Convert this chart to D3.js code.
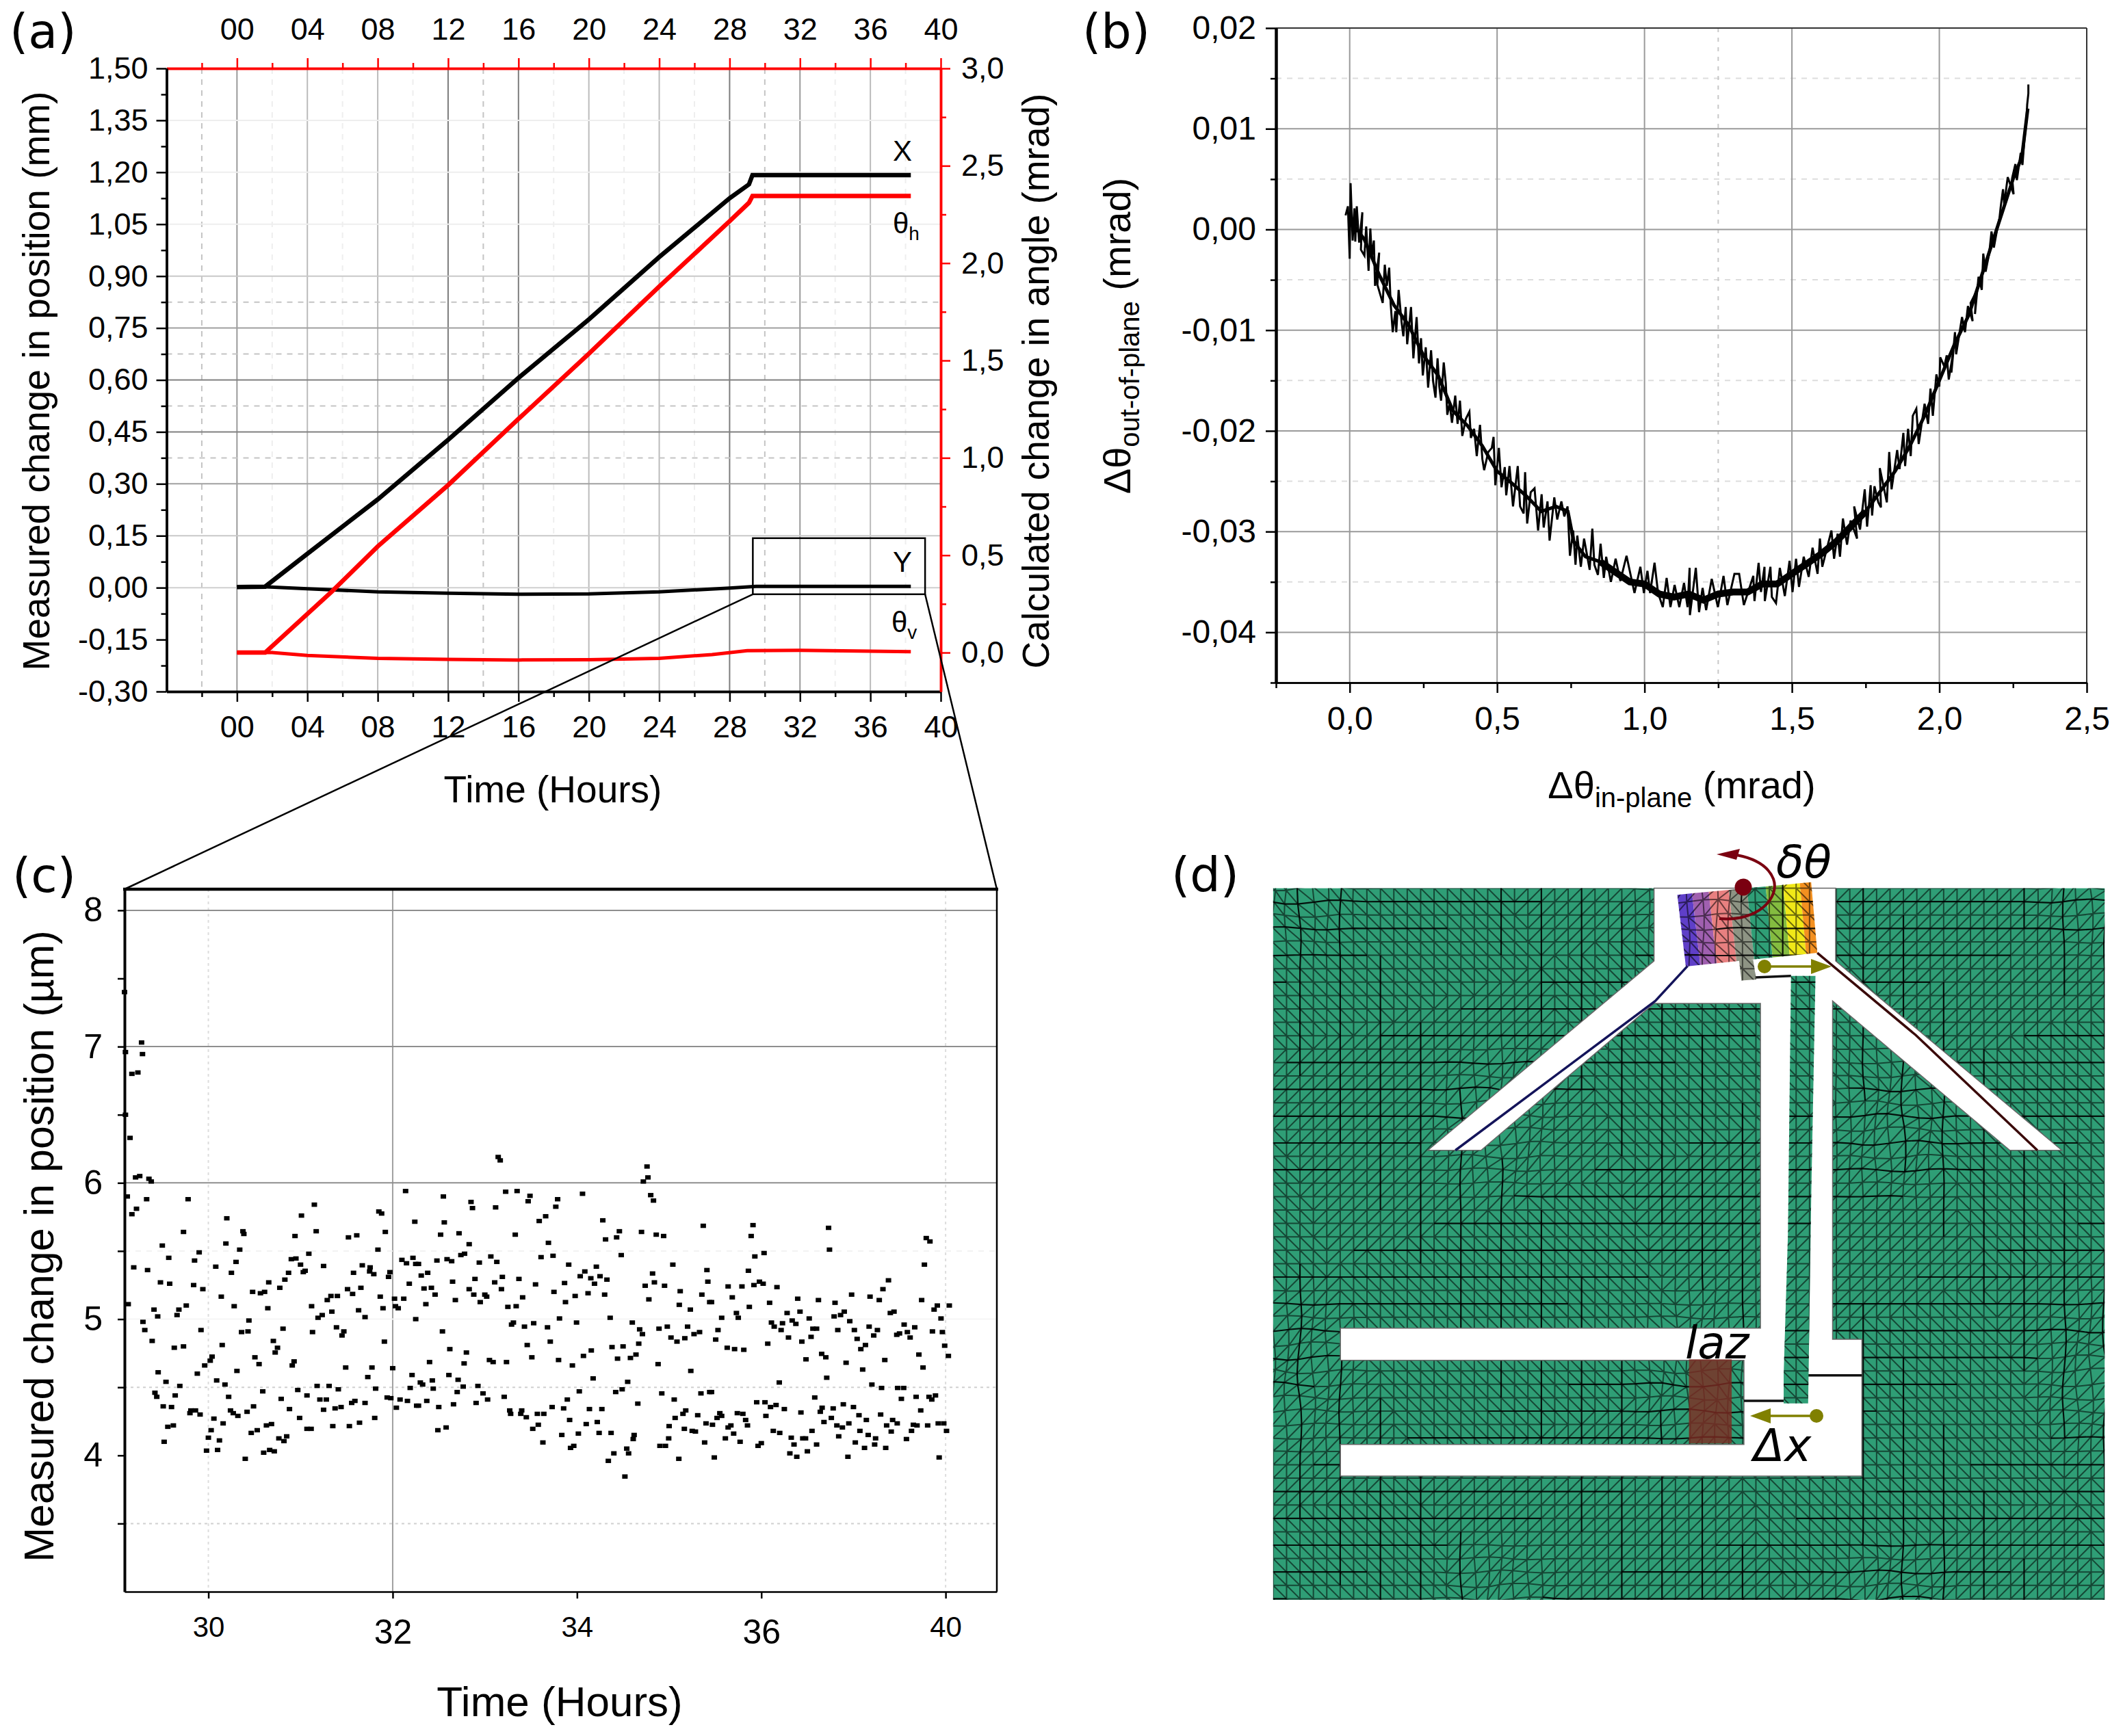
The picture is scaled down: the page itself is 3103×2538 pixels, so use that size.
<!DOCTYPE html>
<html>
<head>
<meta charset="utf-8">
<script src="https://cdn.jsdelivr.net/npm/d3@7"></script>
<style>
body { margin: 0; background: #fff; }
text { font-family: "Liberation Sans", Arial, sans-serif; fill: #000; }
.djv text, text.djv { font-family: "DejaVu Sans", sans-serif; }
</style>
</head>
<body>
<div id="fig"></div>
<script>
// ---------- panel (a) values ----------
const hourTicks = [0, 4, 8, 12, 16, 20, 24, 28, 32, 36, 40];
const hourMinor = [-2, 2, 6, 10, 14, 18, 22, 26, 30, 34, 38];
const posTicks = [-0.3, -0.15, 0, 0.15, 0.3, 0.45, 0.6, 0.75, 0.9, 1.05, 1.2, 1.35, 1.5];
const posMinor = [-0.225, -0.075, 0.075, 0.225, 0.375, 0.525, 0.675, 0.825, 0.975, 1.125, 1.275, 1.425];
const angleTicks = [0, 0.5, 1, 1.5, 2, 2.5, 3];
const angleMinor = [0.25, 0.75, 1.25, 1.75, 2.25, 2.75];

const xHours = [0, 1.6, 4, 8, 12, 16, 20, 24, 28, 29.1, 29.3, 38.3];
const xPos = [0.002, 0.003, 0.098, 0.255, 0.427, 0.606, 0.775, 0.955, 1.125, 1.165, 1.192, 1.192];
const thetaHHours = [0, 1.6, 5.4, 8, 12, 16, 20, 24, 28, 29.1, 29.3, 38.3];
const thetaHAngle = [0, 0, 0.314, 0.545, 0.86, 1.2, 1.535, 1.88, 2.215, 2.31, 2.345, 2.345];
const yHours = [0, 1.5, 4, 8, 12, 16, 20, 24, 28, 29.5, 38.3];
const yPos = [0.002, 0.003, -0.003, -0.012, -0.016, -0.019, -0.018, -0.012, -0.001, 0.004, 0.004];
const thetaVHours = [0, 2, 4, 8, 12, 16, 20, 24, 27, 29, 32, 38.3];
const thetaVAngle = [0, 0, -0.015, -0.03, -0.035, -0.038, -0.037, -0.03, -0.01, 0.01, 0.012, 0.005];

// ---------- panel (b) values ----------
const inPlaneTicks = [0, 0.5, 1, 1.5, 2, 2.5];
const inPlaneMinor = [-0.25, 0.25, 0.75, 1.25, 1.75, 2.25];
const outPlaneTicks = [-0.04, -0.03, -0.02, -0.01, 0, 0.01, 0.02];
const outPlaneMinor = [-0.045, -0.035, -0.025, -0.015, -0.005, 0.005, 0.015];
const curveB = [
  [-0.014,0.0014],[-0.006,0.0023],[0,-0.0029],[0.003,0.0046],[0.01,-0.0011],[0.016,0.0021],[0.019,-0.0012],[0.024,0.0023],
  [0.032,-0.0013],[0.043,0.0017],[0.038,-0.002],[0.05,-0.0026],[0.056,0.0003],[0.064,-0.0041],[0.07,0.0001],[0.075,-0.0027],
  [0.082,-0.0011],[0.086,-0.0056],[0.1,-0.0023],[0.094,-0.0055],[0.112,-0.0073],[0.119,-0.0035],[0.126,-0.0056],[0.134,-0.0038],
  [0.139,-0.0074],[0.146,-0.0102],[0.155,-0.0081],[0.158,-0.0102],[0.166,-0.006],[0.176,-0.0092],[0.182,-0.0106],[0.19,-0.0077],
  [0.195,-0.0114],[0.208,-0.0077],[0.216,-0.0128],[0.227,-0.0087],[0.235,-0.0133],[0.242,-0.0108],[0.248,-0.0145],[0.258,-0.0117],
  [0.266,-0.0157],[0.276,-0.012],[0.283,-0.0151],[0.291,-0.0167],[0.298,-0.0128],[0.304,-0.0156],[0.31,-0.017],[0.319,-0.0132],
  [0.326,-0.0153],[0.331,-0.0184],[0.339,-0.0173],[0.347,-0.0192],[0.358,-0.0165],[0.366,-0.0193],[0.374,-0.017],[0.382,-0.0205],
  [0.394,-0.0188],[0.406,-0.0181],[0.411,-0.0207],[0.422,-0.0198],[0.431,-0.0225],[0.442,-0.0194],[0.45,-0.0228],[0.456,-0.0239],
  [0.47,-0.0221],[0.482,-0.0217],[0.488,-0.0206],[0.494,-0.0254],[0.506,-0.0217],[0.515,-0.0256],[0.526,-0.0236],[0.531,-0.0264],
  [0.542,-0.0235],[0.554,-0.0275],[0.57,-0.0235],[0.578,-0.0275],[0.59,-0.0282],[0.595,-0.0241],[0.602,-0.0292],[0.614,-0.0261],
  [0.627,-0.0257],[0.639,-0.0299],[0.651,-0.0263],[0.658,-0.0296],[0.671,-0.027],[0.678,-0.0309],[0.694,-0.0266],[0.704,-0.0288],
  [0.718,-0.027],[0.728,-0.0285],[0.739,-0.0275],[0.747,-0.0324],[0.758,-0.0299],[0.766,-0.0333],[0.772,-0.0304],[0.784,-0.0335],
  [0.795,-0.0307],[0.814,-0.0338],[0.823,-0.0297],[0.83,-0.0333],[0.842,-0.0343],[0.851,-0.0312],[0.862,-0.0346],[0.87,-0.0325],
  [0.886,-0.035],[0.902,-0.0327],[0.918,-0.0349],[0.939,-0.0324],[0.966,-0.0361],[0.986,-0.0335],[0.998,-0.0361],[1.01,-0.0339],
  [1.019,-0.0361],[1.034,-0.0331],[1.046,-0.0361],[1.062,-0.0375],[1.075,-0.0346],[1.088,-0.0375],[1.102,-0.0353],[1.118,-0.0375],
  [1.134,-0.0351],[1.146,-0.0375],[1.153,-0.0336],[1.154,-0.0383],[1.174,-0.0336],[1.185,-0.038],[1.197,-0.0356],[1.209,-0.0378],
  [1.228,-0.0347],[1.249,-0.0375],[1.268,-0.0344],[1.281,-0.0373],[1.305,-0.0342],[1.321,-0.0342],[1.337,-0.0373],[1.369,-0.0344],
  [1.373,-0.0369],[1.387,-0.0331],[1.395,-0.036],[1.407,-0.0335],[1.408,-0.0369],[1.427,-0.0335],[1.432,-0.0365],[1.446,-0.0371],
  [1.459,-0.0336],[1.476,-0.0364],[1.492,-0.0329],[1.502,-0.036],[1.514,-0.0327],[1.524,-0.0355],[1.54,-0.0325],[1.557,-0.0345],
  [1.57,-0.0316],[1.587,-0.0342],[1.595,-0.0307],[1.603,-0.0335],[1.634,-0.0299],[1.643,-0.0327],[1.655,-0.0302],[1.663,-0.0325],
  [1.673,-0.0287],[1.687,-0.0313],[1.699,-0.0289],[1.721,-0.0307],[1.711,-0.0275],[1.731,-0.0298],[1.747,-0.0258],[1.755,-0.0295],
  [1.767,-0.0254],[1.772,-0.0284],[1.78,-0.0255],[1.793,-0.0271],[1.802,-0.0276],[1.798,-0.0237],[1.822,-0.0271],[1.83,-0.0221],
  [1.838,-0.0258],[1.857,-0.0219],[1.865,-0.0238],[1.878,-0.0202],[1.884,-0.0235],[1.894,-0.0198],[1.903,-0.0225],[1.91,-0.0185],
  [1.922,-0.0178],[1.93,-0.0213],[1.95,-0.0173],[1.962,-0.0193],[1.97,-0.0158],[1.978,-0.0185],[1.99,-0.0144],[2,-0.0156],
  [2.003,-0.0127],[2.017,-0.0136],[2.025,-0.0125],[2.032,-0.0149],[2.048,-0.012],[2.041,-0.0142],[2.053,-0.0102],[2.057,-0.0124],
  [2.077,-0.0087],[2.087,-0.0102],[2.097,-0.0076],[2.113,-0.0091],[2.106,-0.0073],[2.125,-0.0062],[2.121,-0.0084],[2.133,-0.0047],
  [2.144,-0.006],[2.149,-0.0024],[2.157,-0.0042],[2.169,-0.0024],[2.177,-0.0002],[2.185,-0.0018],[2.196,0],[2.204,0.0011],
  [2.208,0.0022],[2.216,0.004],[2.22,0.0025],[2.232,0.0052],[2.252,0.0035],[2.247,0.0051],[2.258,0.0065],[2.263,0.0049],
  [2.276,0.0076],[2.282,0.0064],[2.288,0.0087],[2.291,0.0096],[2.295,0.0106],[2.298,0.0124],[2.302,0.0135],[2.302,0.0144]
];
// middle of the solid black band that the noisy trace makes
const bandB = [
  [0,0.001],[0.05,-0.001],[0.1,-0.0045],[0.15,-0.0075],[0.2,-0.0095],[0.25,-0.0125],[0.3,-0.0145],[0.35,-0.018],[0.4,-0.0195],
  [0.45,-0.0215],[0.5,-0.024],[0.55,-0.0252],[0.6,-0.0265],[0.65,-0.028],[0.7,-0.0275],[0.74,-0.028],[0.76,-0.031],[0.8,-0.0325],
  [0.85,-0.033],[0.9,-0.034],[0.95,-0.035],[1,-0.0352],[1.05,-0.0362],[1.1,-0.0365],[1.15,-0.0362],[1.2,-0.0368],[1.25,-0.0362],
  [1.3,-0.036],[1.35,-0.036],[1.4,-0.0352],[1.45,-0.0352],[1.5,-0.0342],[1.55,-0.0332],[1.6,-0.0322],[1.65,-0.031],[1.7,-0.0295],
  [1.75,-0.028],[1.8,-0.026],[1.85,-0.024],[1.9,-0.0215],[1.95,-0.0185],[2,-0.015],[2.05,-0.0115],[2.1,-0.0085],[2.15,-0.004],
  [2.2,0.0005],[2.25,0.005],[2.28,0.0072],[2.3,0.012]
];

// ---------- panel (c) values ----------
const zoomTicks = [30, 32, 34, 36, 38];
const zoomTickLabels = ['30', '32', '34', '36', '40'];
const zoomPosTicks = [3.5, 4, 4.5, 5, 5.5, 6, 6.5, 7, 7.5, 8];
const scatterC = [
  [29.09,7.4],[29.1,6.96],[29.1,6.5],[29.275,7.03],[29.285,6.945],[29.17,6.8],[29.235,6.81],[29.15,6.33],[29.21,6.04],[29.255,6.05],
  [29.355,6.03],[29.38,6.01],[29.12,5.9],[29.33,5.88],[29.78,5.88],[29.22,5.81],[29.17,5.77],[29.73,5.64],[29.5,5.54],[29.57,5.45],
  [29.9,5.49],[29.85,5.43],[29.19,5.38],[29.34,5.36],[29.48,5.27],[29.58,5.26],[29.84,5.25],[29.94,5.22],[29.13,5.11],[29.76,5.1],
  [29.41,5.07],[29.68,5.07],[29.45,5.02],[29.66,5.03],[29.29,4.98],[29.31,4.92],[29.92,4.92],[29.39,4.84],[29.63,4.79],[29.73,4.8],
  [29.455,4.61],[29.54,4.54],[29.69,4.51],[29.42,4.46],[29.44,4.43],[29.64,4.44],[29.51,4.36],[29.6,4.355],[29.81,4.33],[29.86,4.33],
  [29.91,4.3],[29.8,4.31],[29.56,4.21],[29.62,4.22],[29.52,4.1],[29.88,4.6],[29.96,4.66],[30.02,4.695],[30.04,4.725],[30.08,5.385],
  [30.25,5.34],[30.3,5.42],[30.34,5.51],[30.19,5.555],[30.2,5.74],[30.375,5.645],[30.385,5.625],[30.14,5.165],[30.28,5.095],[30.44,4.99],
  [30.36,4.905],[30.43,4.91],[30.15,4.81],[30.09,4.55],[30.18,4.52],[30.31,4.62],[30.22,4.43],[30.06,4.27],[30.24,4.33],[30.27,4.31],
  [30.32,4.29],[30.16,4.235],[30.42,4.32],[30.49,4.36],[30.03,4.185],[30,4.13],[30.12,4.11],[29.98,4.035],[30.1,4.04],[30.4,3.975],
  [30.465,4.165],[30.53,4.185],[30.48,5.2],[30.565,5.19],[30.61,5.2],[30.655,5.27],[30.775,5.23],[30.83,5.29],[30.87,5.34],[30.9,5.44],
  [30.95,5.445],[30.94,5.61],[31.01,5.76],[31.15,5.84],[31.17,5.645],[31.09,5.48],[31,5.4],[31.05,5.355],[31.03,5.345],[31.25,5.39],
  [30.645,5.08],[30.81,4.93],[30.705,4.84],[30.75,4.79],[30.725,4.755],[30.505,4.72],[30.55,4.67],[30.93,4.69],[30.91,4.66],[30.59,4.47],
  [30.79,4.415],[30.88,4.34],[30.97,4.48],[31.07,4.44],[31.18,4.51],[30.99,4.275],[30.63,4.22],[30.685,4.23],[30.765,4.125],[30.85,4.14],
  [30.82,4.105],[30.6,4.02],[30.665,4.04],[30.715,4.03],[31.07,4.195],[31.115,4.195],[31.12,5.095],[31.19,5.01],[31.235,5.03],[31.13,4.905],
  [31.29,5.14],[31.33,5.17],[31.4,5.17],[31.34,5.055],[31.51,5.22],[31.565,5.185],[31.655,5.23],[31.52,5.6],[31.61,5.615],[31.575,5.34],
  [31.67,5.395],[31.755,5.38],[31.75,5.35],[31.795,5.33],[31.84,5.51],[31.85,5.79],[31.88,5.775],[31.92,5.64],[31.97,5.345],[31.955,5.31],
  [31.865,5.165],[31.895,5.08],[32.02,5.15],[32.03,5.095],[32.06,5.08],[32.12,5.15],[32.14,5.94],[32.24,5.715],[32.1,5.435],[32.15,5.41],
  [32.22,5.45],[32.25,5.405],[32.18,5.26],[32.25,5],[31.63,5.065],[31.7,5.015],[31.39,4.94],[31.47,4.91],[31.45,4.88],[31.91,4.835],
  [31.49,4.645],[31.775,4.645],[31.73,4.575],[32,4.64],[32.21,4.59],[32.19,4.495],[31.31,4.51],[31.41,4.485],[31.815,4.49],[31.21,4.41],
  [31.28,4.41],[31.25,4.335],[31.375,4.345],[31.44,4.355],[31.555,4.385],[31.59,4.4],[31.7,4.385],[31.94,4.425],[31.98,4.42],[32.08,4.41],
  [32.16,4.4],[32.04,4.35],[32.26,4.365],[31.805,4.275],[31.64,4.24],[31.35,4.215],[31.53,4.215],
  [33.145,6.19],[33.167,6.165],[34.76,6.12],[34.77,6.04],[34.72,6.01],[32.55,5.9],[32.85,5.86],[32.866,5.815],[33.117,5.82],[33.226,5.935],
  [33.35,5.94],[33.49,5.905],[33.47,5.865],[33.79,5.88],[33.77,5.825],[34.06,5.92],[34.8,5.91],[34.83,5.87],[32.56,5.71],[32.52,5.62],
  [32.72,5.63],[32.83,5.55],[33.33,5.62],[33.59,5.72],[33.66,5.755],[33.69,5.56],[34.28,5.725],[34.46,5.645],[34.31,5.585],[34.43,5.6],
  [34.7,5.64],[34.86,5.62],[34.94,5.61],[35.37,5.685],[32.48,5.43],[32.59,5.44],[32.64,5.425],[32.74,5.47],[32.78,5.48],[32.94,5.415],
  [33.065,5.46],[33.13,5.42],[33.61,5.455],[33.74,5.465],[33.91,5.4],[34.48,5.47],[34.21,5.385],[35.04,5.4],[35.41,5.36],[32.28,5.405],
  [32.38,5.34],[32.31,5.32],[32.65,5.275],[32.893,5.295],[33.107,5.27],[33.19,5.31],[33.37,5.295],[33.55,5.255],[33.865,5.265],[34.035,5.315],
  [34.085,5.35],[34.15,5.3],[34.25,5.315],[34.325,5.29],[34.19,5.26],[34.82,5.335],[34.84,5.27],[34.74,5.245],[34.95,5.245],[35.42,5.275],
  [32.34,5.225],[32.42,5.23],[32.46,5.18],[32.83,5.22],[32.88,5.18],[33,5.18],[33.02,5.165],[33.18,5.22],[33.75,5.2],[33.98,5.17],
  [34.12,5.19],[34.3,5.18],[33.41,5.16],[35.12,5.205],[35.355,5.18],[32.36,5.11],[32.68,5.14],[32.95,5.125],[33.25,5.09],[33.34,5.095],
  [33.875,5.125],[34.78,5.145],[35.11,5.105],[35.23,5.07],[35.44,5.125],[33.31,4.975],[33.29,4.96],[33.43,4.945],[33.53,4.97],[33.68,4.94],
  [33.81,5.005],[33.995,4.975],[34.36,5.01],[34.6,4.975],[34.68,4.925],[34.71,4.89],[34.89,4.93],[34.98,4.945],[35.2,4.945],[35.27,4.89],
  [35.33,4.905],[32.54,4.91],[35.02,4.865],[35.085,4.835],[35.17,4.86],[32.62,4.78],[32.8,4.755],[33.46,4.81],[33.71,4.835],[34.67,4.82],
  [34.38,4.795],[34.5,4.8],[34.155,4.77],[34.07,4.73],[34.64,4.74],[34.58,4.715],[34.44,4.71],[32.4,4.685],[32.775,4.675],[33.05,4.7],
  [33.09,4.685],[33.235,4.685],[33.51,4.72],[33.8,4.7],[33.95,4.66],[34.88,4.67],[35.235,4.62],[32.61,4.59],[32.43,4.55],[32.3,4.535],
  [32.325,4.52],[32.71,4.555],[32.765,4.505],[32.925,4.51],[34.175,4.565],[34.55,4.54],[32.44,4.49],[32.7,4.465],[34.49,4.485],[34.025,4.47],
  [34.42,4.465],[32.98,4.455],[33.03,4.41],[33.21,4.43],[33.895,4.41],[34.92,4.455],[35.055,4.41],[35.345,4.455],[35.44,4.465],[32.37,4.4],
  [32.28,4.365],[32.5,4.355],[32.66,4.375],[32.905,4.385],[34.66,4.38],[33.27,4.33],[33.28,4.305],[33.4,4.33],[33.39,4.305],[33.45,4.28],
  [33.57,4.305],[33.64,4.305],[33.73,4.355],[33.855,4.345],[34.135,4.34],[34.27,4.34],[35.18,4.33],[35.15,4.305],[35.31,4.295],[35.065,4.275],
  [33.92,4.26],[34.22,4.245],[34.1,4.23],[35.4,4.235],[33.58,4.225],[33.52,4.195],[32.58,4.205],[32.49,4.185],[35,4.215],[35.165,4.195],
  [35.25,4.18],[35.285,4.175],[33.835,4.15],[34.015,4.16],[34.24,4.165],[34.37,4.165],[34.62,4.15],[34.61,4.12],[34.995,4.125],[33.63,4.095],
  [35.385,4.095],[33.965,4.07],[33.93,4.055],[34.54,4.05],[34.9,4.07],[34.96,4.07],[34.4,4.015],[34.56,4.015],[34.34,3.96],[35.105,3.975],
  [34.52,3.845],
  [35.91,5.69],[35.89,5.61],[36.73,5.67],[36.74,5.51],[35.93,5.46],[36.03,5.485],[37.79,5.595],[37.83,5.57],[37.77,5.4],[35.86,5.355],
  [37.38,5.285],[37.32,5.22],[35.64,5.24],[35.79,5.24],[35.92,5.25],[35.98,5.275],[36.02,5.26],[36.17,5.235],[35.685,5.16],[35.46,5.125],
  [36.09,5.12],[36.395,5.15],[36.62,5.14],[36.8,5.12],[36.98,5.18],[37.18,5.165],[37.28,5.14],[37.74,5.14],[35.87,5.09],[37.91,5.1],
  [37.875,5.07],[38.04,5.1],[35.57,5.01],[35.73,5.045],[35.75,5.01],[36.28,5.045],[36.42,5.055],[36.52,5.005],[36.79,5.02],[36.86,5.03],
  [36.9,5.055],[36.96,4.985],[37.4,5.045],[37.44,5.055],[37.95,5.005],[36.11,4.975],[36.14,4.945],[36.23,4.97],[36.335,4.99],[36.375,4.965],
  [37.55,4.96],[37.665,4.94],[35.53,4.92],[36.215,4.92],[36.56,4.93],[36.6,4.93],[36.83,4.92],[37.01,4.92],[37.17,4.945],[37.26,4.92],
  [37.857,4.91],[37.965,4.905],[37.585,4.905],[37.5,4.895],[37.47,4.885],[35.505,4.85],[36.07,4.82],[36.295,4.865],[36.44,4.835],[36.54,4.87],
  [37.04,4.855],[37.22,4.88],[37.615,4.865],[37.13,4.81],[37.08,4.78],[35.63,4.79],[35.71,4.78],[35.81,4.775],[37.99,4.805],[36.655,4.745],
  [36.7,4.72],[37.71,4.74],[38.03,4.73],[36.485,4.705],[37.34,4.7],[36.92,4.68],[37.755,4.645],[37.1,4.63],[36.71,4.57],[36.195,4.535],
  [37.2,4.52],[37.305,4.495],[37.48,4.495],[37.545,4.495],[35.46,4.465],[36.58,4.425],[37.52,4.415],[37.68,4.43],[37.82,4.43],[37.85,4.41],
  [37.89,4.44],[35.95,4.39],[36.04,4.39],[36.1,4.355],[36.16,4.37],[36.25,4.34],[36.89,4.375],[37,4.355],[36.66,4.35],[36.78,4.345],
  [36.64,4.32],[37.73,4.33],[35.55,4.31],[35.52,4.275],[35.57,4.29],[35.74,4.31],[35.8,4.305],[35.83,4.26],[36.05,4.29],[36.43,4.315],
  [37.06,4.295],[37.295,4.3],[36.76,4.275],[37.14,4.26],[37.425,4.26],[36.68,4.245],[36.95,4.235],[37.475,4.235],[35.47,4.225],[35.67,4.22],
  [35.64,4.205],[35.85,4.22],[36.82,4.22],[36.88,4.205],[37.36,4.22],[37.65,4.225],[37.69,4.22],[37.805,4.22],[37.92,4.235],[37.98,4.235],
  [36.13,4.18],[36.2,4.165],[36.55,4.18],[37.07,4.18],[37.41,4.175],[37.63,4.18],[38.01,4.18],[35.7,4.16],[35.61,4.125],[36.325,4.13],
  [36.45,4.125],[36.48,4.125],[36.84,4.14],[37.16,4.15],[37.24,4.125],[37.575,4.12],[35.77,4.1],[37.02,4.095],[36,4.09],[35.965,4.07],
  [36.355,4.08],[36.6,4.08],[37.23,4.08],[37.12,4.055],[37.35,4.055],[36.5,4.03],[36.31,4.015],[36.385,3.99],[35.49,3.985],[36.94,3.99],
  [37.93,3.985]
];

// ---------- number formats ----------
const comma = d3.formatLocale({ decimal: ',', thousands: '.', grouping: [3], currency: ['', ''], minus: '-' });
const fmt2 = comma.format('.2f');
const fmt1 = comma.format('.1f');
const fmtHour = d3.format('02d');

const svg = d3.select('#fig').append('svg').attr('width', 3103).attr('height', 2538).style('display', 'block');

// ---------- drawing helpers ----------
function drawAxis(g, axis, color, width, fontSize) {
  g.call(axis);
  g.attr('font-family', null).attr('font-size', null);
  g.select('.domain').attr('stroke', color).attr('stroke-width', width);
  g.selectAll('.tick line').attr('stroke', color).attr('stroke-width', 2.5);
  g.selectAll('.tick text').style('font-size', fontSize + 'px').attr('fill', '#000');
}

function gridV(g, values, x, y0, y1, stroke, dash, w) {
  g.selectAll(null).data(values).enter().append('line')
    .attr('x1', d => x(d)).attr('x2', d => x(d)).attr('y1', y0).attr('y2', y1)
    .attr('stroke', stroke).attr('stroke-width', w || 2).attr('stroke-dasharray', dash || null);
}

function gridH(g, values, y, x0, x1, stroke, dash, w) {
  g.selectAll(null).data(values).enter().append('line')
    .attr('y1', d => y(d)).attr('y2', d => y(d)).attr('x1', x0).attr('x2', x1)
    .attr('stroke', stroke).attr('stroke-width', w || 2).attr('stroke-dasharray', dash || null);
}

function rotated(parent, x, y, size) {
  return parent.append('text').attr('transform', `translate(${x},${y}) rotate(-90)`)
    .attr('text-anchor', 'middle').style('font-size', size + 'px');
}

function panelLabel(text, x, y) {
  svg.append('text').attr('class', 'djv').attr('x', x).attr('y', y).style('font-size', '70px').text(text);
}

// ---------- panel (a) ----------
const xA = d3.scaleLinear().domain([-4, 40]).range([243.5, 1375]);
const yL = d3.scaleLinear().domain([-0.3, 1.5]).range([1011, 100]);
const yR = d3.scaleLinear().domain([-0.2, 3]).range([1011, 100]);
const a = svg.append('g');

gridV(a, [-2, 14, 30], xA, 100, 1011, '#c4c4c4', '8 8');
gridV(a, [2, 6, 10, 18, 22, 26, 34, 38], xA, 100, 1011, '#eeeeee', '8 8');
gridV(a, [0, 32], xA, 100, 1011, '#9a9a9a');
gridV(a, [4, 8, 20, 24, 36], xA, 100, 1011, '#bbbbbb');
gridV(a, [12, 16, 28], xA, 100, 1011, '#7d7d7d');
gridH(a, [0.825, 0.675, 0.525, 0.375], yL, 243.5, 1375, '#c4c4c4', '8 8');
gridH(a, [1.35, 1.2, 1.05], yL, 243.5, 1375, '#eeeeee');
gridH(a, [0.9, 0.15], yL, 243.5, 1375, '#c8c8c8');
gridH(a, [0.75, 0.3], yL, 243.5, 1375, '#a0a0a0');
gridH(a, [0.6, 0.45], yL, 243.5, 1375, '#808080');
gridH(a, [0], yL, 243.5, 1375, '#cfcfcf');

const lineA = (xs, vals, y) => d3.line()(xs.map((h, i) => [xA(h), y(vals[i])]));
[[yHours, yPos, yL, '#000', 5], [thetaVHours, thetaVAngle, yR, '#f00', 5],
 [xHours, xPos, yL, '#000', 6.5], [thetaHHours, thetaHAngle, yR, '#f00', 6.5]].forEach(s => {
  a.append('path').attr('d', lineA(s[0], s[1], s[2])).attr('fill', 'none')
    .attr('stroke', s[3]).attr('stroke-width', s[4]);
});

drawAxis(a.append('g').attr('transform', 'translate(0,1011)'),
  d3.axisBottom(xA).tickValues(hourMinor).tickFormat('').tickSize(8).tickSizeOuter(0), '#000', 3.5, 45);
drawAxis(a.append('g').attr('transform', 'translate(0,1011)'),
  d3.axisBottom(xA).tickValues(hourTicks).tickFormat(fmtHour).tickSize(15).tickSizeOuter(0).tickPadding(20), '#000', 3.5, 45);
drawAxis(a.append('g').attr('transform', 'translate(0,100)'),
  d3.axisTop(xA).tickValues(hourMinor).tickFormat('').tickSize(8).tickSizeOuter(0), '#f00', 3.5, 45);
drawAxis(a.append('g').attr('transform', 'translate(0,100)'),
  d3.axisTop(xA).tickValues(hourTicks).tickFormat(fmtHour).tickSize(15).tickSizeOuter(0).tickPadding(27), '#f00', 3.5, 45);
drawAxis(a.append('g').attr('transform', 'translate(243.5,0)'),
  d3.axisLeft(yL).tickValues(posMinor).tickFormat('').tickSize(8).tickSizeOuter(0), '#000', 3.5, 45);
drawAxis(a.append('g').attr('transform', 'translate(243.5,0)'),
  d3.axisLeft(yL).tickValues(posTicks).tickFormat(fmt2).tickSize(15).tickSizeOuter(0).tickPadding(12), '#000', 3.5, 45);
drawAxis(a.append('g').attr('transform', 'translate(1375,0)'),
  d3.axisRight(yR).tickValues(angleMinor).tickFormat('').tickSize(8).tickSizeOuter(0), '#f00', 3.5, 45);
drawAxis(a.append('g').attr('transform', 'translate(1375,0)'),
  d3.axisRight(yR).tickValues(angleTicks).tickFormat(fmt1).tickSize(14).tickSizeOuter(0).tickPadding(16), '#f00', 3.5, 45);

rotated(a, 72, 557, 55).text('Measured change in position (mm)');
rotated(a, 1533, 557, 55).text('Calculated change in angle (mrad)');
a.append('text').attr('x', 808).attr('y', 1173).attr('text-anchor', 'middle').style('font-size', '55px').text('Time (Hours)');

function seriesLabel(main, sub, x, y) {
  const t = a.append('text').attr('x', x).attr('y', y).style('font-size', '42px').text(main);
  if (sub) t.append('tspan').attr('dy', 10).style('font-size', '28px').text(sub);
}
seriesLabel('X', null, 1305, 235);
seriesLabel('θ', 'h', 1305, 341);
seriesLabel('Y', null, 1305, 836);
seriesLabel('θ', 'v', 1303, 924);

// zoom box and the two lines down to panel (c)
const boxX = [29.32, 39.11];
const boxY = [-0.019, 0.143];
a.append('rect').attr('x', xA(boxX[0])).attr('y', yL(boxY[1]))
  .attr('width', xA(boxX[1]) - xA(boxX[0])).attr('height', yL(boxY[0]) - yL(boxY[1]))
  .attr('fill', 'none').attr('stroke', '#000').attr('stroke-width', 2.5);

// ---------- panel (b) ----------
const xB = d3.scaleLinear().domain([-0.25, 2.5]).range([1865, 3050]);
const yB = d3.scaleLinear().domain([-0.045, 0.02]).range([998, 41]);
const b = svg.append('g');

gridH(b, outPlaneMinor.slice(1), yB, 1865, 3050, '#dddddd', '8 8');
gridV(b, [1.25], xB, 41, 998, '#c8c8c8', '6 8');
gridV(b, inPlaneTicks.slice(0, 5), xB, 41, 998, '#9a9a9a');
gridH(b, outPlaneTicks.slice(0, 6), yB, 1865, 3050, '#9a9a9a');

const lineB = d3.line().x(d => xB(d[0])).y(d => yB(d[1]));
b.append('path').attr('d', lineB(bandB)).attr('fill', 'none').attr('stroke', '#000').attr('stroke-width', 5);
b.append('path').attr('d', lineB(bandB.filter(d => d[0] > 0.8 && d[0] < 1.8))).attr('fill', 'none').attr('stroke', '#000').attr('stroke-width', 10);
b.append('path').attr('d', lineB(curveB)).attr('fill', 'none').attr('stroke', '#000').attr('stroke-width', 3);

b.append('line').attr('x1', 1865).attr('x2', 3050).attr('y1', 41).attr('y2', 41).attr('stroke', '#333').attr('stroke-width', 2);
b.append('line').attr('x1', 3050).attr('x2', 3050).attr('y1', 41).attr('y2', 998).attr('stroke', '#333').attr('stroke-width', 2);
drawAxis(b.append('g').attr('transform', 'translate(0,998)'),
  d3.axisBottom(xB).tickValues(inPlaneMinor).tickFormat('').tickSize(8).tickSizeOuter(0), '#000', 2.5, 48);
drawAxis(b.append('g').attr('transform', 'translate(0,998)'),
  d3.axisBottom(xB).tickValues(inPlaneTicks).tickFormat(fmt1).tickSize(15).tickSizeOuter(0).tickPadding(20), '#000', 2.5, 48);
drawAxis(b.append('g').attr('transform', 'translate(1865,0)'),
  d3.axisLeft(yB).tickValues(outPlaneMinor).tickFormat('').tickSize(8).tickSizeOuter(0), '#000', 4, 48);
drawAxis(b.append('g').attr('transform', 'translate(1865,0)'),
  d3.axisLeft(yB).tickValues(outPlaneTicks).tickFormat(fmt2).tickSize(15).tickSizeOuter(0).tickPadding(14), '#000', 4, 48);

const bTitleY = rotated(b, 1652, 491, 56);
bTitleY.append('tspan').text('Δθ');
bTitleY.append('tspan').attr('dy', 13).style('font-size', '40px').text('out-of-plane');
bTitleY.append('tspan').attr('dy', -13).text(' (mrad)');
const bTitleX = b.append('text').attr('x', 2458).attr('y', 1167).attr('text-anchor', 'middle').style('font-size', '56px');
bTitleX.append('tspan').text('Δθ');
bTitleX.append('tspan').attr('dy', 13).style('font-size', '40px').text('in-plane');
bTitleX.append('tspan').attr('dy', -13).text(' (mrad)');

// ---------- panel (c) ----------
const xC = d3.scaleLinear().domain([29.09, 38.556]).range([182, 1457]);
const yC = d3.scaleLinear().domain([3, 8.155]).range([2327, 1300]);
const c = svg.append('g');

gridV(c, [30, 38], xC, 1300, 2327, '#dddddd', '4 5');
gridV(c, [32], xC, 1300, 2327, '#a0a0a0');
gridH(c, [3.5, 4.5], yC, 182, 1457, '#d0d0d0', '4 5');
gridH(c, [5.5], yC, 182, 1457, '#f2f2f2', '8 8');
gridH(c, [5], yC, 182, 1457, '#f6f6f6');
gridH(c, [8, 7, 6], yC, 182, 1457, '#8e8e8e');

c.selectAll('.dot').data(scatterC).enter().append('rect').attr('class', 'dot')
  .attr('x', d => xC(d[0]) - 4).attr('y', d => yC(d[1]) - 3.2)
  .attr('width', 8).attr('height', 6.4).attr('fill', '#000');

c.append('line').attr('x1', 180).attr('x2', 1459).attr('y1', 1300).attr('y2', 1300).attr('stroke', '#000').attr('stroke-width', 4.5);
c.append('line').attr('x1', 1457).attr('x2', 1457).attr('y1', 1300).attr('y2', 2327).attr('stroke', '#000').attr('stroke-width', 2.5);
const cBottom = c.append('g').attr('transform', 'translate(0,2327)');
drawAxis(cBottom, d3.axisBottom(xC).tickValues(zoomTicks).tickFormat((d, i) => zoomTickLabels[i]).tickSize(10).tickSizeOuter(0).tickPadding(26), '#000', 2.5, 42);
cBottom.selectAll('.tick text').filter(d => d === 32 || d === 36).style('font-size', '50px').attr('dy', '0.8em');
const cLeft = c.append('g').attr('transform', 'translate(182,0)');
drawAxis(cLeft, d3.axisLeft(yC).tickValues(zoomPosTicks).tickFormat(d => (d % 1 ? '' : d)).tickSize(10).tickSizeOuter(0).tickPadding(22), '#000', 4, 50);

rotated(c, 78, 1822, 61).text('Measured change in position (µm)');
c.append('text').attr('x', 818).attr('y', 2509).attr('text-anchor', 'middle').style('font-size', '62px').text('Time (Hours)');

// lines from the box in (a) to the top corners of (c)
a.append('line').attr('x1', xA(boxX[0])).attr('y1', yL(boxY[0])).attr('x2', xC.range()[0]).attr('y2', yC.range()[1])
  .attr('stroke', '#000').attr('stroke-width', 2.5);
a.append('line').attr('x1', xA(boxX[1])).attr('y1', yL(boxY[0])).attr('x2', xC.range()[1]).attr('y2', yC.range()[1])
  .attr('stroke', '#000').attr('stroke-width', 2.5);

// ---------- panel (d), the meshed mechanism ----------
const dX = d3.scaleLinear().domain([0, 1570]).range([1700, 3103]);
const dY = d3.scaleLinear().domain([0, 1570]).range([1240, 2390.2]);
const pts = list => list.map(p => [dX(p[0]), dY(p[1])]);
const poly = list => d3.line()(pts(list)) + 'Z';

const voidShape = [[803,80],[1100,80],[1100,225],[1470,603],[1385,603],[1095,305],[1095,980],[1143,980],[1143,1253],
  [290,1253],[290,1190],[950,1190],[950,1022],[290,1022],[290,958],[977,958],[977,310],[803,310],[520,603],[433,603],[803,225]];
const barShape = [[1027,255],[1067,255],[1060,700],[1055,1108],[1015,1108],[1015,1050],[1022,770]];
const rotorCorners = [[841,93],[1060,68],[1070,209],[855,236]];
const footShape = [[942,223],[965,223],[970,262],[946,264]];
const rotorStops = [0, 0.11, 0.235, 0.385, 0.52, 0.66, 0.79, 0.915, 1];
const rotorColors = ['#5f3fc8', '#a060b0', '#e88080', '#8e9484', '#2f9e76', '#84bc40', '#f0e818', '#f39020'];

const d = svg.append('g');
const defs = svg.append('defs');
defs.append('clipPath').attr('id', 'dBox').append('rect').attr('x', dX(180)).attr('y', dY(80))
  .attr('width', dX(1540) - dX(180)).attr('height', dY(1500) - dY(80));
defs.append('clipPath').attr('id', 'dBar').append('path').attr('d', poly(barShape));
defs.append('clipPath').attr('id', 'dRotor').append('path')
  .attr('d', poly(rotorCorners) + poly(footShape));

// lattice of triangles, bent a little so it reads like a free mesh
const cell = 19.6;
function meshPaths() {
  const x0 = dX(180) - cell, y0 = dY(80) - cell;
  const nodes = (i, j) => {
    const u = Math.sin(i * 0.21 + 1) * Math.cos(j * 0.17);
    const w = Math.max(0, u - 0.4) * 7;
    return [x0 + i * cell + w * Math.sin(i * 1.3 + j * 0.7), y0 + j * cell + w * Math.cos(i * 0.9 - j * 1.1)];
  };
  const strong = d3.path(), weak = d3.path();
  const seg = (p, q, r) => { r.moveTo(p[0], p[1]); r.lineTo(q[0], q[1]); };
  for (let i = 0; i < 66; i++) {
    for (let j = 0; j < 56; j++) {
      const p = nodes(i, j), e = nodes(i + 1, j), s = nodes(i, j + 1), se = nodes(i + 1, j + 1);
      seg(p, e, (j % 2 === 0 && Math.sin(i * 0.13 + j * 0.41) > -0.3) ? strong : weak);
      seg(p, s, (i % 3 === 0 && Math.cos(i * 0.31 - j * 0.19) > -0.2) ? strong : weak);
      if (Math.sin(i * 0.19 + j * 0.13) + Math.cos(j * 0.23 - i * 0.07) > 0) seg(p, se, weak);
      else seg(e, s, weak);
    }
  }
  return [strong.toString(), weak.toString()];
}
const meshD = meshPaths();
function addMesh(parent, clipId) {
  const g = parent.append('g').attr('clip-path', `url(#${clipId})`).attr('fill', 'none');
  g.append('path').attr('d', meshD[1]).attr('stroke', '#000').attr('stroke-opacity', 0.55).attr('stroke-width', 2);
  g.append('path').attr('d', meshD[0]).attr('stroke', '#000').attr('stroke-opacity', 0.9).attr('stroke-width', 2.2);
}

d.append('rect').attr('x', dX(180)).attr('y', dY(80)).attr('width', dX(1540) - dX(180)).attr('height', dY(1500) - dY(80)).attr('fill', '#2f9e76');
addMesh(d, 'dBox');
d.append('path').attr('d', poly(voidShape)).attr('fill', '#fff').attr('stroke', '#666').attr('stroke-width', 1.5);

// thin flexures
[[[[858,235],[805,305],[478,603]],'#14145a'], [[[1070,209],[1231,373],[1430,603]],'#3a0a0a'], [[[950,1103],[1015,1103]],'#111'],
 [[[1055,1052],[1143,1052]],'#111'], [[[968,258],[1027,255]],'#111']].forEach(s => {
  d.append('path').attr('d', d3.line()(pts(s[0]))).attr('fill', 'none').attr('stroke', s[1]).attr('stroke-width', 3.5);
});

// central bar
d.append('path').attr('d', poly(barShape)).attr('fill', '#2f9e76');
addMesh(d, 'dBar');

// rotor, coloured by angle
const [tl, tr, br, bl] = rotorCorners;
const lerp = (p, q, t) => [p[0] + (q[0] - p[0]) * t, p[1] + (q[1] - p[1]) * t];
rotorColors.forEach((col, i) => {
  const s0 = rotorStops[i], s1 = rotorStops[i + 1];
  d.append('path').attr('d', poly([lerp(tl, tr, s0), lerp(tl, tr, s1), lerp(bl, br, s1), lerp(bl, br, s0)])).attr('fill', col);
});
d.append('path').attr('d', poly(footShape)).attr('fill', '#8e9484');
addMesh(d, 'dRotor');

// laz block
d.append('rect').attr('x', dX(860)).attr('y', dY(1020)).attr('width', dX(930) - dX(860)).attr('height', dY(1188) - dY(1020))
  .attr('fill', '#7e2a22').attr('fill-opacity', 0.8);

// arrows
const turn = d3.path();
turn.moveTo(2513, 1343);
turn.bezierCurveTo(2570, 1348, 2602, 1312, 2592, 1285);
turn.bezierCurveTo(2584, 1265, 2565, 1255, 2538, 1250);
d.append('path').attr('d', turn.toString()).attr('fill', 'none').attr('stroke', '#7a0010').attr('stroke-width', 4);
d.append('path').attr('d', d3.line()([[2509, 1249], [2543, 1241], [2538, 1257]]) + 'Z').attr('fill', '#7a0010');
d.append('circle').attr('cx', 2548).attr('cy', 1297).attr('r', 12.5).attr('fill', '#7a0010');

const olive = '#808000';
d.append('line').attr('x1', 2579).attr('x2', 2650).attr('y1', 1413).attr('y2', 1413).attr('stroke', olive).attr('stroke-width', 3.5);
d.append('circle').attr('cx', 2579).attr('cy', 1413).attr('r', 10).attr('fill', olive);
d.append('path').attr('d', d3.line()([[2677, 1413], [2647, 1402], [2647, 1424]]) + 'Z').attr('fill', olive);
d.append('line').attr('x1', 2585).attr('x2', 2655).attr('y1', 2070).attr('y2', 2070).attr('stroke', olive).attr('stroke-width', 3.5);
d.append('circle').attr('cx', 2655).attr('cy', 2070).attr('r', 10).attr('fill', olive);
d.append('path').attr('d', d3.line()([[2558, 2070], [2588, 2059], [2588, 2081]]) + 'Z').attr('fill', olive);

[['δθ', 2596, 1283], ['laz', 2463, 1986], ['Δx', 2563, 2136]].forEach(s => {
  d.append('text').attr('class', 'djv').attr('x', s[1]).attr('y', s[2]).style('font-size', '66px').style('font-style', 'italic').text(s[0]);
});

panelLabel('(a)', 14, 70);
panelLabel('(b)', 1582, 70);
panelLabel('(c)', 18, 1304);
panelLabel('(d)', 1712, 1303);
</script>
</body>
</html>
